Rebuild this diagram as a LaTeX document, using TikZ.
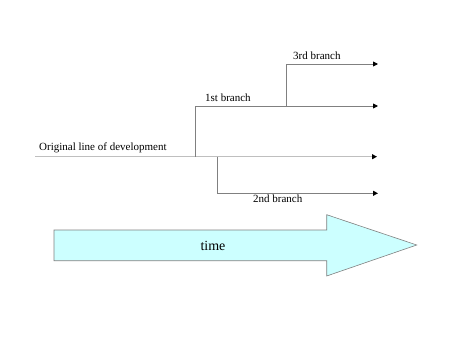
\documentclass[tikz,border=0pt]{standalone}
\usepackage{fontspec}
\setmainfont{Liberation Serif}
\usetikzlibrary{arrows.meta}

\tikzset{
  branchline/.style={gray, line width=0.9pt, -{Triangle[length=5pt, width=5pt, black]}},
  origline/.style={lightgray, line width=0.9pt, -{Triangle[length=5pt, width=5pt, black]}},
  branchlabel/.style={font=\fontsize{11}{13}\selectfont, inner sep=0pt, anchor=base west},
}

\begin{document}
\begin{tikzpicture}[x=1pt, y=-1pt]
  \useasboundingbox (0,0) rectangle (450,337);
  % fork points and branch ends
  \coordinate (start) at (35,156.7);
  \coordinate (fork1) at (195.3,156.7);
  \coordinate (fork2) at (217.3,156.7);
  \coordinate (bend1) at (195.3,106);
  \coordinate (fork3) at (286.7,106);
  \coordinate (bend3) at (286.7,64);
  \coordinate (bend2) at (217.3,193.3);
  \coordinate (endorig) at (377,156.7);
  \coordinate (end1) at (378,106);
  \coordinate (end3) at (378,64);
  \coordinate (end2) at (378,193.3);
  % lines
  \draw[origline] (start) -- (endorig);
  \draw[branchline] (fork1) -- (bend1) -- (end1);
  \draw[branchline] (fork3) -- (bend3) -- (end3);
  \draw[branchline] (fork2) -- (bend2) -- (end2);
  % labels
  \node[branchlabel] (origlabel) at (39,150) {Original line of development};
  \node[branchlabel] (label1) at (205,101) {1st branch};
  \node[branchlabel] (label3) at (293,59.5) {3rd branch};
  \node[branchlabel] (label2) at (253,202) {2nd branch};
  % time arrow
  \draw[gray, fill={rgb,255:red,204;green,255;blue,255}, line width=0.6pt]
    (54,230) -- (326.7,230) -- (326.7,214.7) -- (416.7,245)
    -- (326.7,276) -- (326.7,260.7) -- (54,260.7) -- cycle;
  \node[font=\fontsize{14}{16}\selectfont, inner sep=0pt] (timelabel) at (213,245.5) {time};
\end{tikzpicture}
\end{document}
